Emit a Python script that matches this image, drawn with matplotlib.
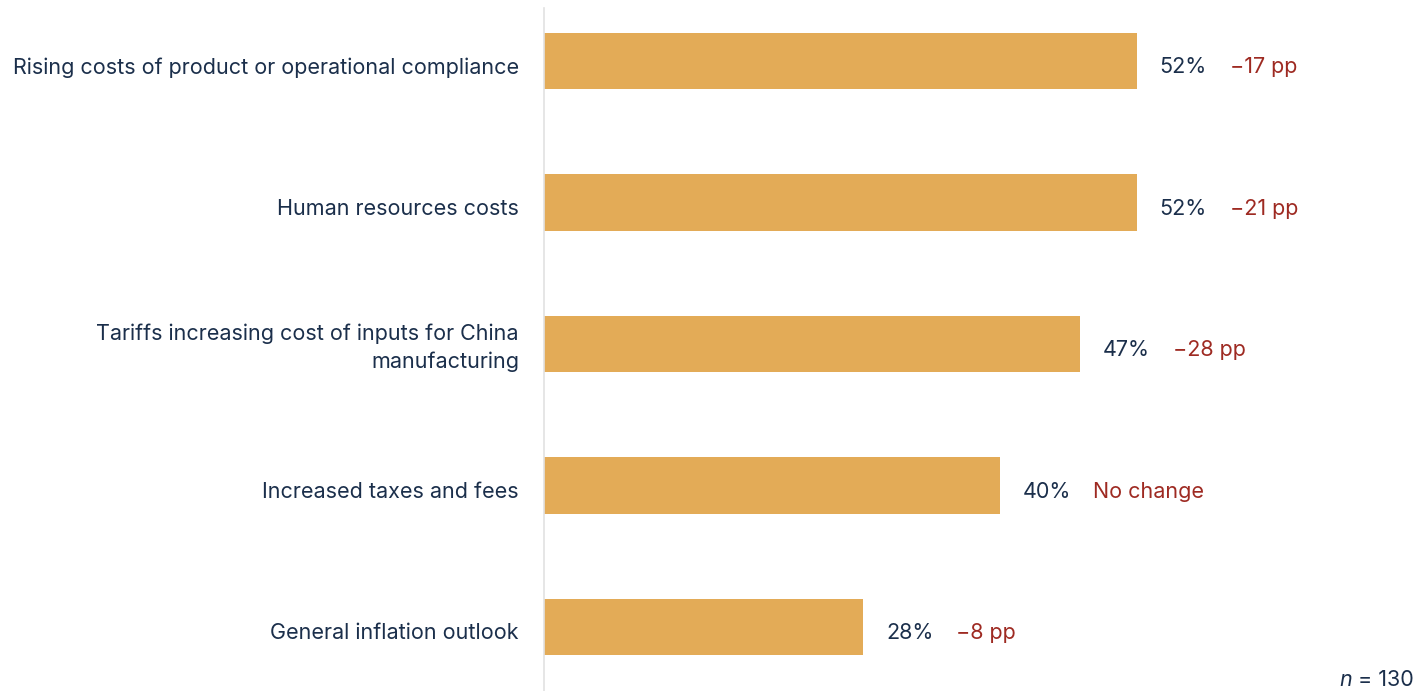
import matplotlib.pyplot as plt

# Cost pressures, share of respondents and change vs. prior year
categories = [
    'Rising costs of product or operational compliance',
    'Human resources costs',
    'Tariffs increasing cost of inputs for China\nmanufacturing',
    'Increased taxes and fees',
    'General inflation outlook',
]
shares = [52, 52, 47, 40, 28]
changes = ['\u221217 pp', '\u221221 pp', '\u221228 pp', 'No change', '\u22128 pp']
n_resp = 130

bar_color = '#E3AB57'
navy = '#1B2F4B'
red = '#9E2A22'
fs = 15.5

plt.rcParams['font.family'] = ['Inter', 'DejaVu Sans']

fig = plt.figure(figsize=(14.28, 6.91), dpi=100)
ax = fig.add_axes([544 / 1428, 0, 1 - 544 / 1428, 1 - 8 / 691])

ypos = list(range(len(categories)))
ax.barh(ypos, shares, height=0.40, color=bar_color, zorder=2)

ax.set_xlim(0, (1428 - 544) / 11.4)
ax.set_ylim(4.452, -0.375)
ax.set_xticks([])
ax.set_yticks([])

for side in ['top', 'right', 'bottom']:
    ax.spines[side].set_visible(False)
ax.spines['left'].set_color('#E2E2E2')
ax.spines['left'].set_linewidth(1.2)

# category labels to the left of the axis, values and changes after the bars
for y, cat, v, c in zip(ypos, categories, shares, changes):
    dy = -2.5 if '\n' in cat else -4.5
    ax.annotate(cat, (0, y), xytext=(-18, dy), textcoords='offset points',
                ha='right', va='center', fontsize=fs, color=navy,
                linespacing=1.45, annotation_clip=False)
    ax.annotate(f'{v}%', (v, y), xytext=(16.5, -4.5), textcoords='offset points',
                ha='left', va='center', fontsize=fs, color=navy)
    ax.annotate(c, (v, y), xytext=(67, -4.5), textcoords='offset points',
                ha='left', va='center', fontsize=fs, color=red)

fig.text(1352 / 1428, 1 - 680 / 691, 'n', ha='right', va='center',
         fontsize=fs, color=navy, style='italic')
fig.text(1414 / 1428, 1 - 680 / 691, f'= {n_resp}', ha='right', va='center',
         fontsize=fs, color=navy)

fig.savefig('out.png', dpi=100)
